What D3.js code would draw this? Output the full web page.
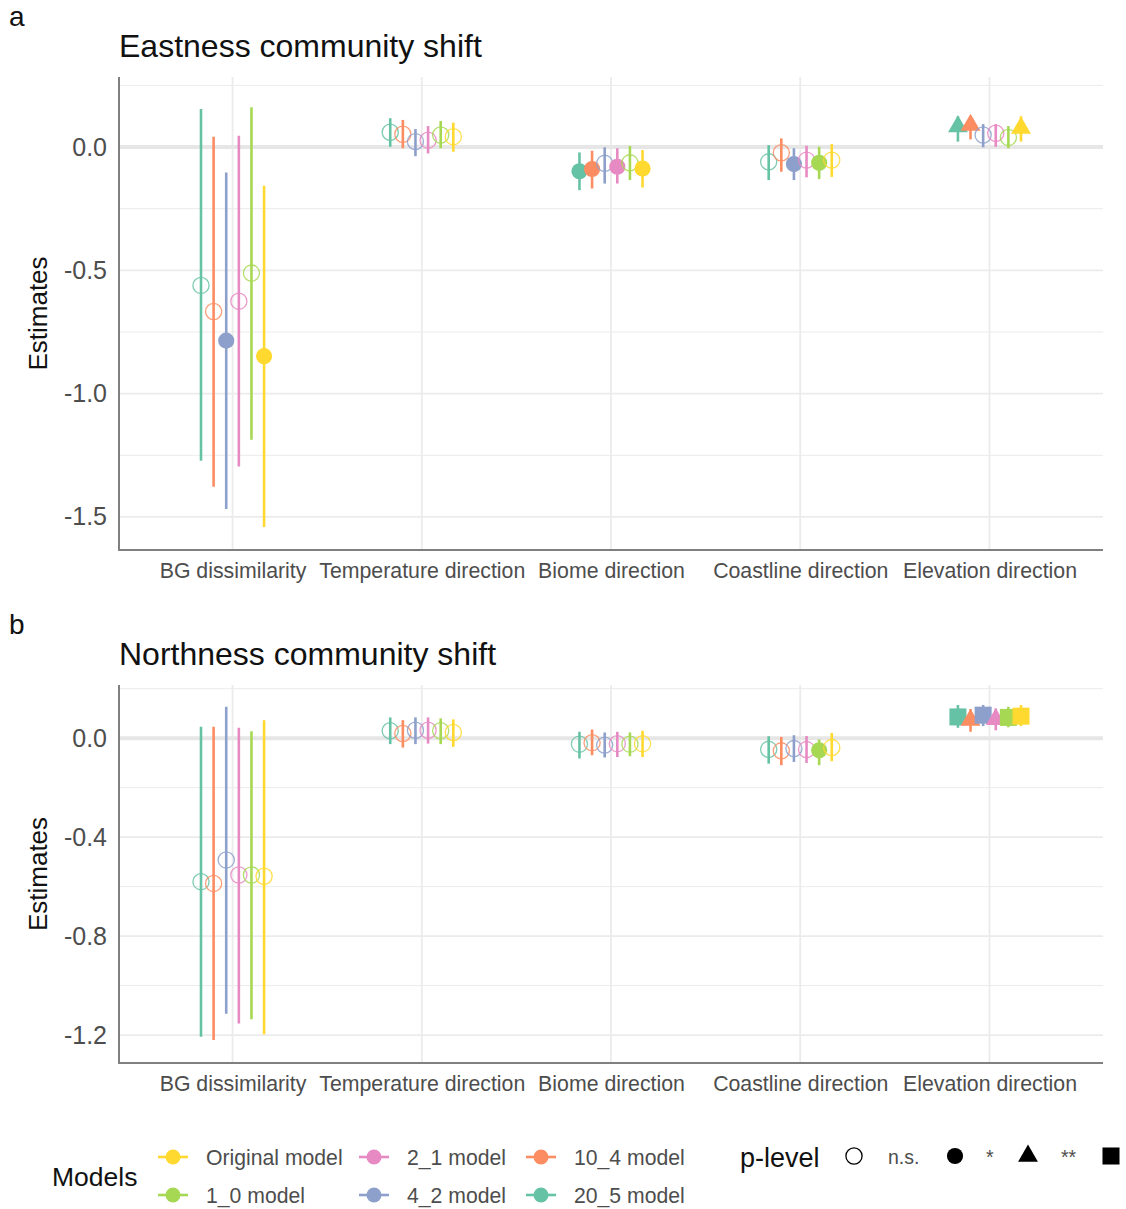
<!DOCTYPE html>
<html>
<head>
<meta charset="utf-8">
<script src="https://cdn.jsdelivr.net/npm/d3@7"></script>
<style>
  body { margin: 0; background: #fff; }
  text { font-family: "Liberation Sans", Arial, sans-serif; }
</style>
</head>
<body>
<svg id="chart" width="1126" height="1209"></svg>
<script>

var categories = ['BG dissimilarity', 'Temperature direction', 'Biome direction', 'Coastline direction', 'Elevation direction'];

// legend order
var models = ['Original model', '1_0 model', '2_1 model', '4_2 model', '10_4 model', '20_5 model'];
var modelColors = ['#FFD92F', '#A6D854', '#E78AC3', '#8DA0CB', '#FC8D62', '#66C2A5'];

var pLevels = ['n.s.', '*', '**', '***'];

// Panel a: eastness (rows = models, cols = categories)
var eastEst = [
    [-0.848, 0.042, -0.087, -0.053, 0.077],
    [-0.511, 0.049, -0.064, -0.064, 0.039],
    [-0.625, 0.028, -0.080, -0.053, 0.056],
    [-0.785, 0.022, -0.066, -0.069, 0.049],
    [-0.667, 0.052, -0.089, -0.023, 0.089],
    [-0.561, 0.060, -0.098, -0.060, 0.083]
];
var eastLow = [
    [-1.541, -0.019, -0.164, -0.121, 0.022],
    [-1.187, -0.005, -0.134, -0.130, -0.005],
    [-1.295, -0.026, -0.148, -0.123, 0.001],
    [-1.468, -0.037, -0.148, -0.134, -0.001],
    [-1.378, -0.005, -0.168, -0.100, 0.031],
    [-1.272, 0.001, -0.175, -0.134, 0.022]
];
var eastHigh = [
    [-0.157, 0.099, -0.012, 0.012, 0.125],
    [0.161, 0.106, 0.004, 0.001, 0.085],
    [0.046, 0.085, -0.005, 0.005, 0.093],
    [-0.103, 0.073, -0.001, -0.005, 0.093],
    [0.042, 0.110, -0.015, 0.035, 0.125],
    [0.154, 0.117, -0.022, 0.008, 0.125]
];
var eastSig = [
    [1, 0, 1, 0, 2],
    [0, 0, 0, 1, 0],
    [0, 0, 1, 0, 0],
    [1, 0, 0, 1, 0],
    [0, 0, 1, 0, 2],
    [0, 0, 1, 0, 2]
];

// Panel b: northness
var northEst = [
    [-0.558, 0.023, -0.022, -0.038, 0.089],
    [-0.553, 0.030, -0.024, -0.049, 0.084],
    [-0.553, 0.032, -0.022, -0.046, 0.076],
    [-0.492, 0.032, -0.028, -0.042, 0.093],
    [-0.587, 0.019, -0.018, -0.051, 0.073],
    [-0.580, 0.030, -0.024, -0.045, 0.086]
];
var northLow = [
    [-1.197, -0.035, -0.076, -0.093, 0.049],
    [-1.136, -0.024, -0.073, -0.109, 0.044],
    [-1.153, -0.022, -0.076, -0.100, 0.032],
    [-1.114, -0.024, -0.078, -0.096, 0.049],
    [-1.220, -0.038, -0.069, -0.109, 0.026],
    [-1.207, -0.024, -0.082, -0.103, 0.042]
];
var northHigh = [
    [0.073, 0.076, 0.030, 0.021, 0.134],
    [0.028, 0.080, 0.023, -0.005, 0.127],
    [0.042, 0.084, 0.026, 0.009, 0.120],
    [0.127, 0.084, 0.023, 0.012, 0.134],
    [0.046, 0.073, 0.035, 0.005, 0.118],
    [0.046, 0.084, 0.026, 0.008, 0.134]
];
var northSig = [
    [0, 0, 0, 0, 3],
    [0, 0, 0, 1, 3],
    [0, 0, 0, 0, 2],
    [0, 0, 0, 0, 3],
    [0, 0, 0, 0, 2],
    [0, 0, 0, 0, 3]
];

var eastTicks = [0, -0.5, -1.0, -1.5];
var eastMinor = [0.25, -0.25, -0.75, -1.25];
var northTicks = [0, -0.4, -0.8, -1.2];
var northMinor = [0.2, -0.2, -0.6, -1.0];

var svg = d3.select('#chart');

var left = 119, right = 1103;
var textGrey = '#4d4d4d';

function shapeFor(sig) {
    if (sig == 2) return d3.symbol().type(d3.symbolTriangle).size(170)();
    if (sig == 3) return d3.symbol().type(d3.symbolSquare).size(290)();
    return d3.symbol().type(d3.symbolCircle).size(205)();
}

function drawPanel(opt) {
    var g = svg.append('g');

    var x = d3.scalePoint().domain(categories).range([left, right]).padding(0.6);
    var y = d3.scaleLinear().domain(opt.domain).range([opt.bottom, opt.top]);
    var step = x.step();
    // dodge width 0.4, plotted order is reverse of legend
    var dodge = d3.scaleBand().domain(models.slice().reverse()).range([-0.2 * step, 0.2 * step]);

    // grid
    g.selectAll('.minor').data(opt.minor).enter().append('line')
        .attr('x1', left).attr('x2', right)
        .attr('y1', function(d) { return y(d); }).attr('y2', function(d) { return y(d); })
        .attr('stroke', '#ebebeb').attr('stroke-width', 1);
    g.selectAll('.major').data(opt.ticks).enter().append('line')
        .attr('x1', left).attr('x2', right)
        .attr('y1', function(d) { return y(d); }).attr('y2', function(d) { return y(d); })
        .attr('stroke', '#ebebeb').attr('stroke-width', 1.8);
    g.selectAll('.vgrid').data(categories).enter().append('line')
        .attr('x1', function(d) { return x(d); }).attr('x2', function(d) { return x(d); })
        .attr('y1', opt.top).attr('y2', opt.bottom)
        .attr('stroke', '#ebebeb').attr('stroke-width', 1.8);

    // zero line
    g.append('line')
        .attr('x1', left).attr('x2', right)
        .attr('y1', y(0)).attr('y2', y(0))
        .attr('stroke', '#e6e6e6').attr('stroke-width', 4);

    // axes
    var yAxis = d3.axisLeft(y).tickValues(opt.ticks).tickSize(0).tickPadding(12)
        .tickFormat(function(d) { return d.toFixed(1); });
    var ya = g.append('g').attr('transform', 'translate(' + left + ',0)').call(yAxis);
    ya.select('.domain').remove();
    ya.selectAll('text').attr('font-size', 25).attr('fill', textGrey)
        .style('font-family', '"Liberation Sans", Arial, sans-serif');

    var xAxis = d3.axisBottom(x).tickSize(0).tickPadding(13);
    var xa = g.append('g').attr('transform', 'translate(0,' + opt.bottom + ')').call(xAxis);
    xa.select('.domain').remove();
    xa.selectAll('text').attr('font-size', 21.3).attr('fill', textGrey)
        .style('font-family', '"Liberation Sans", Arial, sans-serif');

    g.append('line').attr('x1', left).attr('x2', left).attr('y1', opt.top).attr('y2', opt.bottom + 1)
        .attr('stroke', '#808080').attr('stroke-width', 2);
    g.append('line').attr('x1', left).attr('x2', right).attr('y1', opt.bottom).attr('y2', opt.bottom)
        .attr('stroke', '#808080').attr('stroke-width', 2);

    // data rows
    var rows = [];
    models.forEach(function(m, i) {
        categories.forEach(function(c, j) {
            rows.push({
                model: m, color: modelColors[i], cat: c,
                est: opt.est[i][j], low: opt.low[i][j], high: opt.high[i][j], sig: opt.sig[i][j]
            });
        });
    });
    // draw in dodge order so right-most sit on top
    rows.sort(function(a, b) { return dodge(a.model) - dodge(b.model); });

    function px(d) { return x(d.cat) + dodge(d.model) + dodge.bandwidth() / 2; }

    var pts = g.selectAll('.pr').data(rows).enter().append('g');
    pts.append('line')
        .attr('x1', px).attr('x2', px)
        .attr('y1', function(d) { return y(d.low); })
        .attr('y2', function(d) { return y(d.high); })
        .attr('stroke', function(d) { return d.color; })
        .attr('stroke-width', 2.6);
    pts.append('path')
        .attr('d', function(d) { return shapeFor(d.sig); })
        .attr('transform', function(d) { return 'translate(' + px(d) + ',' + y(d.est) + ')'; })
        .attr('fill', function(d) { return d.sig == 0 ? 'none' : d.color; })
        .attr('stroke', function(d) { return d.sig == 0 ? d.color : 'none'; })
        .attr('stroke-opacity', 0.85)
        .attr('stroke-width', 1.3);

    // titles
    svg.append('text').attr('x', 9).attr('y', opt.top - 51).attr('font-size', 28).attr('fill', '#111').text(opt.tag);
    svg.append('text').attr('x', left).attr('y', opt.top - 20).attr('font-size', 32).attr('fill', '#111').text(opt.title);
    svg.append('text')
        .attr('transform', 'translate(47,' + ((opt.top + opt.bottom) / 2) + ') rotate(-90)')
        .attr('text-anchor', 'middle').attr('font-size', 26).attr('fill', '#111').text('Estimates');
}

drawPanel({
    tag: 'a', title: 'Eastness community shift',
    top: 77, bottom: 550, domain: [-1.634, 0.284],
    ticks: eastTicks, minor: eastMinor,
    est: eastEst, low: eastLow, high: eastHigh, sig: eastSig
});

drawPanel({
    tag: 'b', title: 'Northness community shift',
    top: 685, bottom: 1063, domain: [-1.313, 0.215],
    ticks: northTicks, minor: northMinor,
    est: northEst, low: northLow, high: northHigh, sig: northSig
});

// legend: models
var leg = svg.append('g');
leg.append('text').attr('x', 52).attr('y', 1186).attr('font-size', 26.5).attr('fill', '#111').text('Models');

var legCols = [173, 374, 541];
var legRows = [1157, 1195];
models.forEach(function(m, i) {
    var cx = legCols[Math.floor(i / 2)];
    var cy = legRows[i % 2];
    leg.append('line').attr('x1', cx - 15).attr('x2', cx + 15).attr('y1', cy).attr('y2', cy)
        .attr('stroke', modelColors[i]).attr('stroke-width', 2.6);
    leg.append('circle').attr('cx', cx).attr('cy', cy).attr('r', 7.5).attr('fill', modelColors[i]);
    leg.append('text').attr('x', cx + 33).attr('y', cy + 7.5).attr('font-size', 21.2).attr('fill', textGrey).text(m);
});

// legend: p-level
leg.append('text').attr('x', 740).attr('y', 1167).attr('font-size', 27).attr('fill', '#111').text('p-level');
var pKeys = [854, 955, 1028, 1111];
var pText = [888, 986, 1061, null];
pLevels.forEach(function(p, i) {
    leg.append('path')
        .attr('d', shapeFor(i))
        .attr('transform', 'translate(' + pKeys[i] + ',1156)')
        .attr('fill', i == 0 ? 'none' : '#000')
        .attr('stroke', i == 0 ? '#000' : 'none')
        .attr('stroke-width', 1.3);
    if (pText[i] != null) {
        leg.append('text').attr('x', pText[i]).attr('y', 1164).attr('font-size', 19.5).attr('fill', textGrey).text(p);
    }
});

</script>
</body>
</html>
